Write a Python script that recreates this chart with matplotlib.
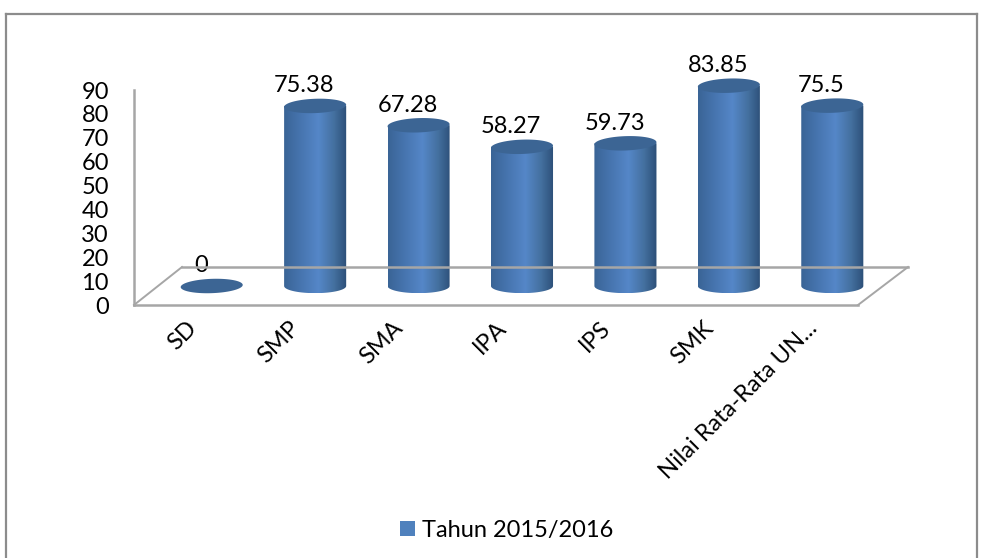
import numpy as np
import matplotlib
matplotlib.use("Agg")
import matplotlib.pyplot as plt
from matplotlib.colors import LinearSegmentedColormap
from matplotlib.patches import Polygon, PathPatch, Patch
from matplotlib.path import Path
from matplotlib.lines import Line2D

categories = ["SD", "SMP", "SMA", "IPA", "IPS", "SMK", "Nilai Rata-Rata UN..."]
values = [0, 75.38, 67.28, 58.27, 59.73, 83.85, 75.5]
value_labels = ["0", "75.38", "67.28", "58.27", "59.73", "83.85", "75.5"]
y_ticks = [0, 10, 20, 30, 40, 50, 60, 70, 80, 90]
series_name = "Tahun 2015/2016"

W, H = 984, 558
plt.rcParams["font.family"] = ["Lato", "DejaVu Sans"]
GRAY = "#a6a6a6"
FS = 17

fig = plt.figure(figsize=(W / 100, H / 100), dpi=100, facecolor="white")

def axes_px(l, r, bottom, top, **kw):
    return fig.add_axes([l / W, 1 - bottom / H, (r - l) / W, (bottom - top) / H], **kw)

# chart frame (the lower edge is cut off in the reference)
for xs, ys in [((6, 6), (558, 14)), ((6, 977), (14, 14)), ((977, 977), (14, 558))]:
    fig.add_artist(Line2D(np.array(xs) / W, 1 - np.array(ys) / H, color="#8c8c8c", lw=1.6))

# front plane: axis, ticks and category labels
front = axes_px(134, 858, 305, 90, facecolor="none")
front.set_xlim(-0.5, 6.5)
front.set_ylim(0, 90)
for s in ("top", "right"):
    front.spines[s].set_visible(False)
for s in ("left", "bottom"):
    front.spines[s].set_color(GRAY)
    front.spines[s].set_linewidth(1.8)
front.set_yticks(y_ticks)
front.tick_params(axis="y", length=0, pad=18, labelsize=FS, labelcolor="black")
front.set_xticks(range(len(categories)))
front.set_xticklabels(categories, rotation=45, ha="right", va="top",
                      rotation_mode="anchor", fontsize=17)
front.tick_params(axis="x", length=0, pad=9)

# back plane and floor edges
fig.add_artist(Line2D(np.array([182, 908]) / W, 1 - np.array([267, 267]) / H, color=GRAY, lw=1.8))
fig.add_artist(Line2D(np.array([134, 182]) / W, 1 - np.array([305, 267]) / H, color=GRAY, lw=1.4))
fig.add_artist(Line2D(np.array([858, 908]) / W, 1 - np.array([305, 267]) / H, color=GRAY, lw=1.4))

# bar plane, shifted in depth from the front plane
ax = axes_px(160, 884, 286, 71, facecolor="none")
ax.axis("off")

cmap = LinearSegmentedColormap.from_list(
    "cyl", [(0, "#3a6496"), (0.25, "#4674ae"), (0.55, "#5587c8"), (0.8, "#44709f"), (1, "#2c4f78")])
grad = np.linspace(0, 1, 128)[None, :]

bar_w = 0.6
ell_h = 6.0
tilt = 0.45
t = np.linspace(np.pi, 2 * np.pi, 40)
tt = np.linspace(0, 2 * np.pi, 80)
for i, v in enumerate(values):
    if v > 0:
        xs = i + bar_w / 2 * np.cos(t)
        ys = ell_h / 2 * np.sin(t)
        verts = np.column_stack([np.r_[xs, i + bar_w / 2, i - bar_w / 2, xs[0]],
                                 np.r_[ys, v, v, ys[0]]])
        body = PathPatch(Path(verts), fc="none", ec="none", transform=ax.transData, clip_on=False)
        ax.add_patch(body)
        im = ax.imshow(grad, extent=(i - bar_w / 2, i + bar_w / 2, -ell_h / 2, v), cmap=cmap,
                       aspect="auto", zorder=2, interpolation="bilinear")
        im.set_clip_box(fig.bbox)
        im.set_clip_path(body)
    cx, cy = np.cos(tt), np.sin(tt)
    top = np.column_stack([i + bar_w / 2 * cx, v + ell_h / 2 * cy + tilt * cx])
    ax.add_patch(Polygon(top, closed=True, fc="#3c6594", ec="none", zorder=3, clip_on=False))
    ax.text(i - 0.105, v + 4.0, value_labels[i], ha="center", va="bottom",
            fontsize=FS, color="black", zorder=4, clip_on=False)
ax.set_xlim(-0.5, 6.5)
ax.set_ylim(0, 90)

fig.legend(handles=[Patch(fc="#4f81bd", ec="none", label=series_name)],
           loc="center", bbox_to_anchor=(507 / W, 1 - 530 / H), frameon=False, fontsize=FS,
           handlelength=0.62, handleheight=0.62, handletextpad=0.3)

fig.savefig("out.png", dpi=100)
